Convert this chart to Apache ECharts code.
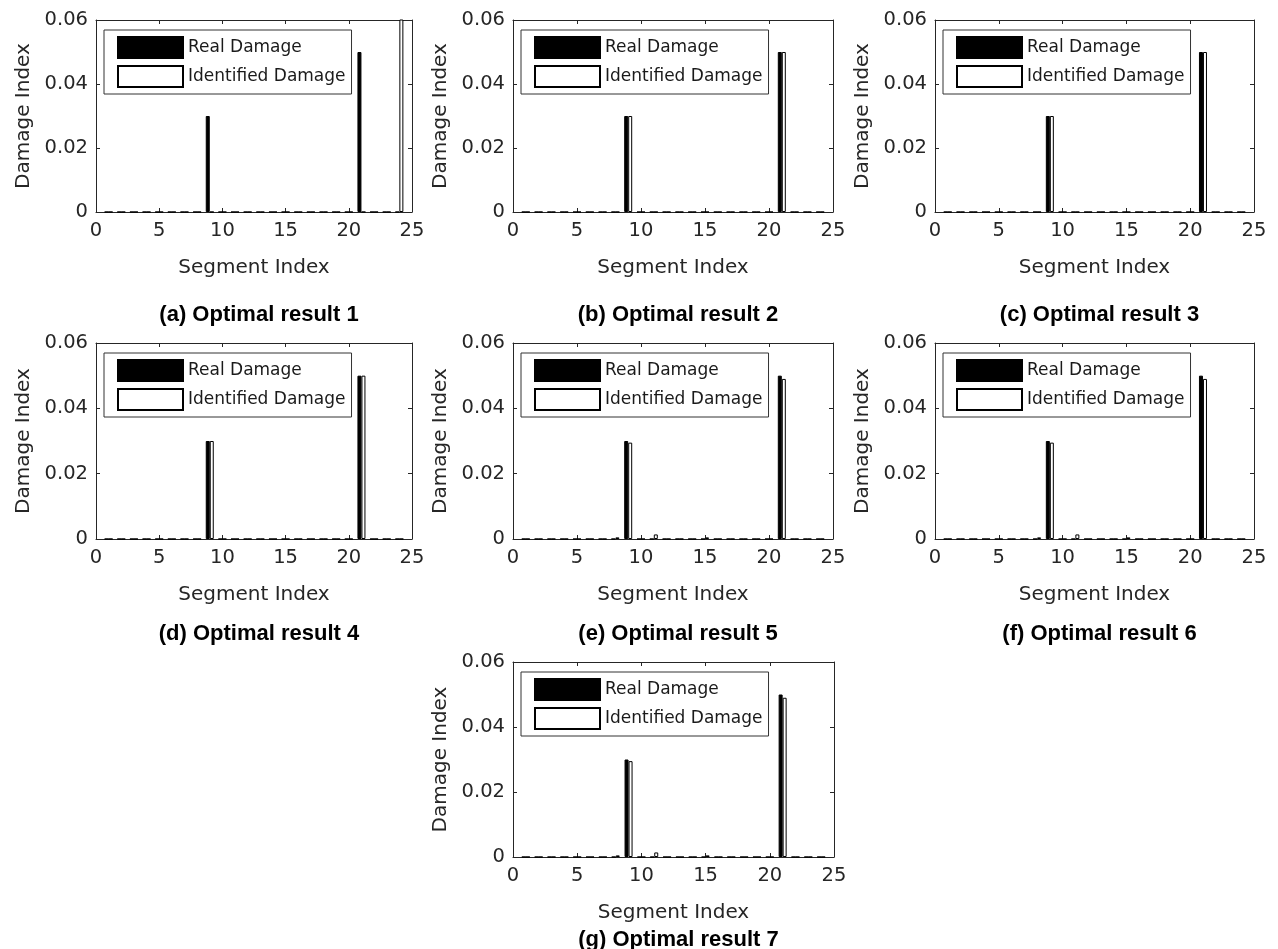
<!DOCTYPE html>
<html>
<head>
<meta charset="utf-8">
<script src="https://cdn.jsdelivr.net/npm/echarts@6/dist/echarts.min.js"></script>
<style>
  html, body { margin: 0; padding: 0; background: #fff; }
  #main { width: 1278px; height: 949px; }
</style>
</head>
<body>
<div id="main"></div>
<script>
// segment numbers of the beam
const segments = [1, 2, 3, 4, 5, 6, 7, 8, 9, 10, 11, 12, 13, 14, 15, 16, 17, 18, 19, 20, 21, 22, 23, 24];
const realDamage = [0, 0, 0, 0, 0, 0, 0, 0, 0.03, 0, 0, 0, 0, 0, 0, 0, 0, 0, 0, 0, 0.05, 0, 0, 0];
// identified damage per optimal result (a..g)
const identified1 = [0, 0, 0, 0, 0, 0, 0, 0, 0, 0, 0, 0, 0, 0, 0, 0, 0, 0, 0, 0, 0, 0, 0, 0.1];
const identified2 = [0, 0, 0, 0, 0, 0, 0, 0, 0.03, 0, 0, 0, 0, 0, 0, 0, 0, 0, 0, 0, 0.05, 0, 0, 0];
const identified3 = [0, 0, 0, 0, 0, 0, 0, 0, 0.03, 0, 0, 0, 0, 0, 0, 0, 0, 0, 0, 0, 0.05, 0, 0, 0];
const identified4 = [0, 0, 0, 0, 0, 0, 0, 0, 0.03, 0, 0, 0, 0, 0, 0, 0, 0, 0, 0, 0, 0.05, 0, 0, 0];
const identified5 = [0, 0, 0, 0, 0, 0, 0, 0.0005, 0.0295, 0, 0.0014, 0, 0, 0, 0.0005, 0, 0, 0, 0, 0, 0.049, 0, 0, 0];
const identified6 = [0, 0, 0, 0, 0, 0, 0, 0.0005, 0.0295, 0, 0.0014, 0, 0, 0, 0.0005, 0, 0, 0, 0, 0, 0.049, 0, 0, 0];
const identified7 = [0, 0, 0, 0, 0, 0, 0, 0.0005, 0.0295, 0, 0.0014, 0, 0, 0, 0.0005, 0, 0, 0, 0, 0, 0.049, 0, 0, 0];
const identifiedAll = [identified1, identified2, identified3, identified4, identified5, identified6, identified7];
const panelTitles = ['(a) Optimal result 1', '(b) Optimal result 2', '(c) Optimal result 3',
  '(d) Optimal result 4', '(e) Optimal result 5', '(f) Optimal result 6', '(g) Optimal result 7'];
const yTicks = ['0', '0.02', '0.04', '0.06'];

const axisColor = '#262626';
const font = 'DejaVu Sans';

// plot boxes: [left, top, width, height]
const boxes = [
  [96, 20, 316, 192], [513, 20, 320, 192], [935, 20, 319, 192],
  [96, 343, 316, 196], [513, 343, 320, 196], [935, 343, 319, 196],
  [513, 662, 321, 195]
];
const titleY = [313, 313, 313, 632, 632, 632, 938];

let chart = echarts.init(document.getElementById('main'));

let grids = [], xAxes = [], yAxes = [], series = [], legends = [], titles = [];

boxes.forEach((b, i) => {
  grids.push({left: b[0], top: b[1], width: b[2], height: b[3], show: false, containLabel: false});
  let baseX = {
    type: 'value', gridIndex: i, min: 0, max: 25, interval: 5,
    axisLine: {show: true, onZero: false, lineStyle: {color: axisColor, width: 1}},
    axisTick: {show: true, inside: true, length: 4, lineStyle: {color: axisColor}},
    splitLine: {show: false}
  };
  xAxes.push(Object.assign({}, baseX, {
    position: 'bottom',
    name: 'Segment Index', nameLocation: 'middle', nameGap: 46,
    nameTextStyle: {fontFamily: font, fontSize: 20, color: axisColor},
    axisLabel: {show: true, margin: 9, fontFamily: font, fontSize: 19.5, color: axisColor}
  }));
  xAxes.push(Object.assign({}, baseX, {position: 'top', axisLabel: {show: false}}));
  let baseY = {
    type: 'value', gridIndex: i, min: 0, max: 0.06, interval: 0.02,
    axisLine: {show: true, onZero: false, lineStyle: {color: axisColor, width: 1}},
    axisTick: {show: true, inside: true, length: 4, lineStyle: {color: axisColor}},
    splitLine: {show: false}
  };
  yAxes.push(Object.assign({}, baseY, {
    position: 'left',
    name: 'Damage Index', nameLocation: 'middle', nameGap: 62, nameRotate: 90,
    nameTextStyle: {fontFamily: font, fontSize: 20, color: axisColor},
    axisLabel: {
      show: true, margin: 8, fontFamily: font, fontSize: 19.5, color: axisColor,
      formatter: (v) => yTicks[Math.round(v / 0.02)]
    }
  }));
  yAxes.push(Object.assign({}, baseY, {position: 'right', axisLabel: {show: false}}));

  series.push({
    type: 'bar', name: 'Real Damage',
    xAxisIndex: i * 2, yAxisIndex: i * 2,
    data: segments.map((s, k) => [s, realDamage[k]]),
    barWidth: 4, barGap: '0%',
    itemStyle: {color: '#000', borderColor: '#000', borderWidth: 1},
    emphasis: {disabled: true},
    clip: true
  });
  series.push({
    type: 'bar', name: 'Identified Damage',
    xAxisIndex: i * 2, yAxisIndex: i * 2,
    data: segments.map((s, k) => [s, identifiedAll[i][k]]),
    barWidth: 4, barGap: '0%',
    itemStyle: {color: '#fff', borderColor: '#000', borderWidth: 1},
    emphasis: {disabled: true},
    clip: true
  });

  legends.push({
    orient: 'vertical', left: b[0] + 8, top: b[1] + 10,
    data: [{name: 'Real Damage', icon: 'rect'}, {name: 'Identified Damage', icon: 'rect'}],
    itemWidth: 65, itemHeight: 21, itemGap: 6,
    padding: [6, 6, 6, 13],
    backgroundColor: '#fff', borderColor: '#333', borderWidth: 1, borderRadius: 0,
    selectedMode: false,
    textStyle: {fontFamily: font, fontSize: 17, color: '#1a1a1a'}
  });

  titles.push({
    text: panelTitles[i],
    left: b[0] + b[2] / 2, top: titleY[i] - 14, textAlign: 'center',
    textStyle: {fontFamily: 'Liberation Sans', fontWeight: 'bold', fontSize: 22, color: '#000'}
  });
});

let option = {
  backgroundColor: '#fff',
  animation: false,
  title: titles,
  legend: legends,
  grid: grids,
  xAxis: xAxes,
  yAxis: yAxes,
  series: series
};
chart.setOption(option);
</script>
</body>
</html>
